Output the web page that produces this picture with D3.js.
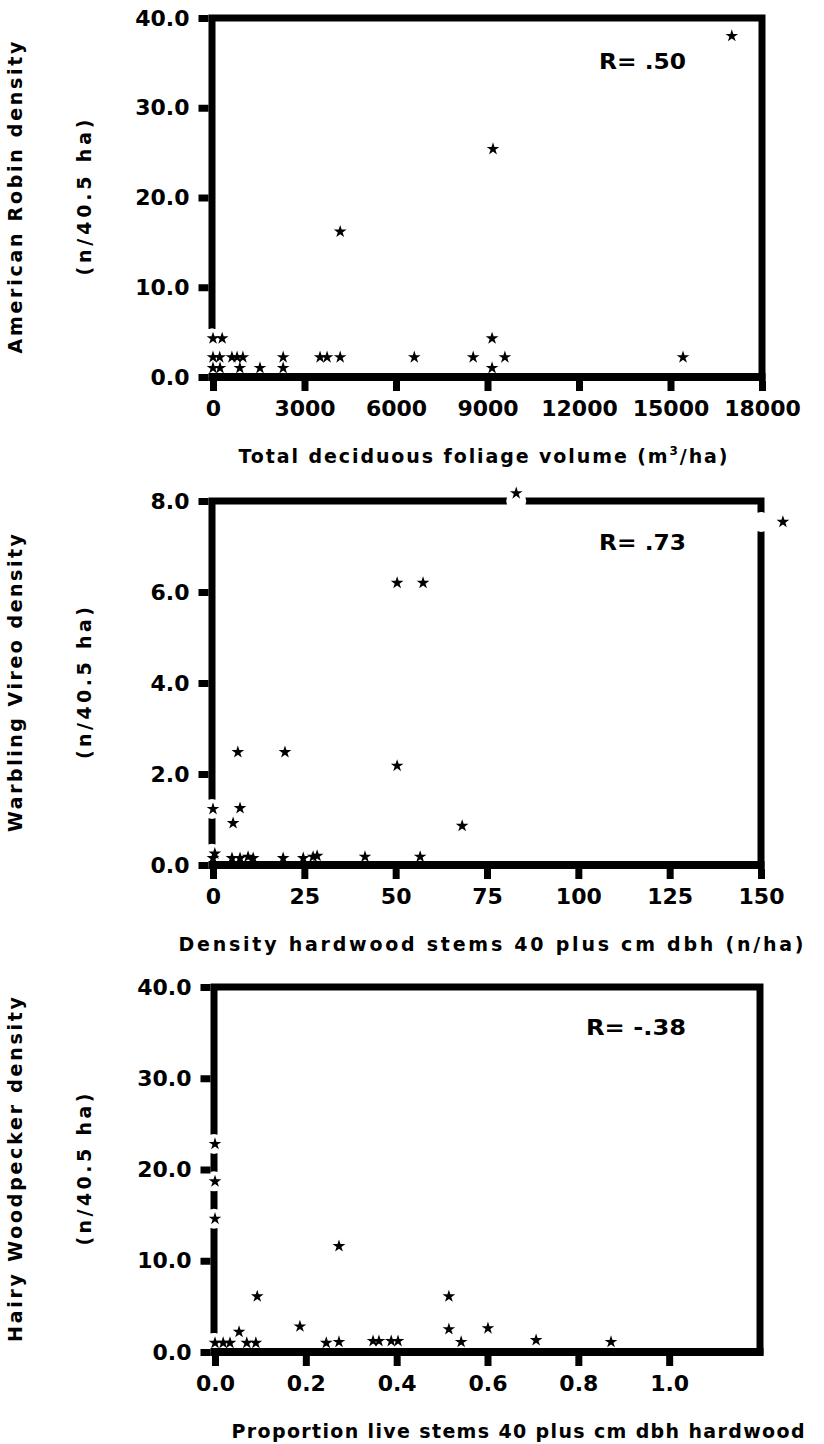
<!DOCTYPE html>
<html><head><meta charset="utf-8">
<script src="https://cdn.jsdelivr.net/npm/d3@7"></script>
<style>
html,body{margin:0;padding:0;background:#fff;}
svg{display:block;}
text{font-family:"DejaVu Sans","Liberation Sans",Arial,sans-serif;font-weight:bold;fill:#000;}
</style></head>
<body>
<script>
// ---------- DATA ----------
// Panel 1: American Robin vs total deciduous foliage volume
const robinX = [0, 300, 9150, 0, 220, 620, 790, 980, 2300, 3510, 3740, 4170, 6600, 8530, 9570, 15410, 0, 230, 880, 1540, 2300, 9150, 4170, 9180, 17010];
const robinY = [4.3, 4.3, 4.3, 2.2, 2.2, 2.2, 2.2, 2.2, 2.2, 2.2, 2.2, 2.2, 2.2, 2.2, 2.2, 2.2, 1.0, 1.0, 1.0, 1.0, 1.0, 1.0, 16.2, 25.4, 38.0];
const robinXTicks = [0, 3000, 6000, 9000, 12000, 15000, 18000];
const robinYTicks = [0, 10, 20, 30, 40];

// Panel 2: Warbling Vireo vs density hardwood stems 40+ cm dbh
const vireoX = [0, 0, 0.5, 5.2, 5.5, 7.4, 6.8, 7.4, 9.6, 11, 19.2, 19.7, 24.7, 27.4, 28.5, 41.6, 50.4, 50.4, 57.5, 56.7, 68.2, 83, 156];
const vireoY = [1.23, 0.15, 0.25, 0.15, 0.92, 1.25, 2.48, 0.15, 0.18, 0.15, 0.15, 2.48, 0.15, 0.18, 0.2, 0.18, 2.18, 6.2, 6.2, 0.18, 0.86, 8.17, 7.54];
const vireoXTicks = [0, 25, 50, 75, 100, 125, 150];
const vireoYTicks = [0, 2, 4, 6, 8];

// Panel 3: Hairy Woodpecker vs proportion live stems
const woodX = [0, 0, 0, 0.273, 0, 0.018, 0.033, 0.053, 0.07, 0.09, 0.093, 0.187, 0.245, 0.273, 0.348, 0.361, 0.388, 0.403, 0.515, 0.515, 0.542, 0.601, 0.707, 0.872];
const woodY = [22.8, 18.7, 14.6, 11.6, 1.0, 1.0, 1.0, 2.2, 1.0, 1.0, 6.1, 2.8, 1.0, 1.1, 1.2, 1.2, 1.2, 1.2, 6.1, 2.5, 1.1, 2.6, 1.3, 1.1];
const woodXTicks = [0, 0.2, 0.4, 0.6, 0.8, 1.0];
const woodYTicks = [0, 10, 20, 30, 40];

const rLabels = ["R= .50", "R= .73", "R= -.38"];

// ---------- LAYOUT ----------
const W = 824, H = 1444;
const svg = d3.select("body").append("svg").attr("width", W).attr("height", H);
svg.append("rect").attr("width", W).attr("height", H).attr("fill", "#fff");

const LW = 7; // frame line width
const FONT = '"DejaVu Sans","Liberation Sans",Arial,sans-serif';

const panels = [
  {
    xs: robinX, ys: robinY, xt: robinXTicks, yt: robinYTicks,
    xDom: [0, 18000], xRange: [213, 762], yDom: [0, 40], yRange: [377, 18],
    xFmt: d3.format("d"), yFmt: d3.format(".1f"),
    yTitle: "American Robin density", yTitleLen: 312, ySub: "(n/40.5 ha)", ySubLen: 156,
    xTitle: [{t: "Total deciduous foliage volume (m"}, {t: "3", sup: true}, {t: "/ha)"}], xTitleX: 483, xTitleY: 463, xTitleLen: 489,
    r: rLabels[0], rY: 62, rLen: 87
  },
  {
    xs: vireoX, ys: vireoY, xt: vireoXTicks, yt: vireoYTicks,
    xDom: [0, 150], xRange: [213, 761], yDom: [0, 8], yRange: [865, 501],
    xFmt: d3.format("d"), yFmt: d3.format(".1f"),
    yTitle: "Warbling Vireo density", yTitleLen: 298, ySub: "(n/40.5 ha)", ySubLen: 152,
    xTitle: [{t: "Density hardwood stems 40 plus cm dbh (n/ha)"}], xTitleX: 491, xTitleY: 951, xTitleLen: 625,
    r: rLabels[1], rY: 543, rLen: 87
  },
  {
    xs: woodX, ys: woodY, xt: woodXTicks, yt: woodYTicks,
    xDom: [0, 1.2], xRange: [215, 760], yDom: [0, 40], yRange: [1352, 987],
    xFmt: d3.format(".1f"), yFmt: d3.format(".1f"),
    yTitle: "Hairy Woodpecker density", yTitleLen: 345, ySub: "(n/40.5 ha)", ySubLen: 152,
    xTitle: [{t: "Proportion live stems 40 plus cm dbh hardwood"}], xTitleX: 518, xTitleY: 1438, xTitleLen: 573,
    r: rLabels[2], rY: 1028, rLen: 100
  }
];

const star = d3.symbol().type(d3.symbolStar).size(50);

function styleTickText(sel) {
  sel.style("font-size", "22px").style("font-family", FONT).style("font-weight", "bold");
}

panels.forEach(p => {
  const x = d3.scaleLinear().domain(p.xDom).range(p.xRange);
  const y = d3.scaleLinear().domain(p.yDom).range(p.yRange);
  const g = svg.append("g");
  const x1 = x(p.xDom[1]);
  const y0 = y(p.yDom[0]), y1 = y(p.yDom[1]);
  const fx0 = p.xRange[0] - 1; // frame left centre

  // frame: left, top, right
  g.append("path")
    .attr("d", `M${fx0},${y0} L${fx0},${y1} L${x1},${y1} L${x1},${y0}`)
    .attr("fill", "none").attr("stroke", "#000").attr("stroke-width", LW)
    .attr("stroke-linejoin", "miter").attr("stroke-linecap", "square");

  const pts = p.xs.map((v, i) => ({x: v, y: p.ys[i], px: x(v), py: y(p.ys[i])}));

  // white clearings where a symbol touches / crosses the frame
  const halos = [];
  pts.forEach(d => {
    if (Math.abs(d.px - fx0) <= 12) halos.push([fx0, d.py]);
    if (d.py - y1 <= 12) halos.push([d.px, y1]);
    if (d.px >= x1 - 12) halos.push([x1, d.py]);
  });
  g.append("g").selectAll("circle").data(halos).join("circle")
    .attr("cx", d => d[0]).attr("cy", d => d[1]).attr("r", 10).attr("fill", "#fff");

  // y axis ticks + labels
  const ya = d3.axisLeft(y).tickValues(p.yt).tickFormat(p.yFmt).tickSize(10).tickPadding(9);
  const yg = g.append("g").attr("transform", `translate(${fx0 - LW / 2},0)`).call(ya);
  yg.select(".domain").remove();
  yg.selectAll(".tick line").attr("stroke", "#000").attr("stroke-width", 7);
  yg.selectAll(".tick text").call(styleTickText);

  // bottom axis line (drawn over clearings)
  g.append("line").attr("x1", fx0 - LW / 2).attr("x2", x1 + LW / 2)
    .attr("y1", y0).attr("y2", y0).attr("stroke", "#000").attr("stroke-width", LW + 1);

  // x ticks + labels
  const xa = d3.axisBottom(x).tickValues(p.xt).tickFormat(p.xFmt).tickSize(10).tickPadding(9);
  const xg = g.append("g").attr("transform", `translate(0,${y0 + (LW + 1) / 2})`).call(xa);
  xg.select(".domain").remove();
  xg.selectAll(".tick line").attr("stroke", "#000").attr("stroke-width", 7);
  xg.selectAll(".tick text").call(styleTickText);

  // stars
  g.append("g").selectAll("path").data(pts).join("path")
    .attr("d", star)
    .attr("transform", d => `translate(${d.px},${d.py})`)
    .attr("fill", "#000");

  // R label
  g.append("text").attr("x", 686).attr("y", p.rY).attr("text-anchor", "end")
    .attr("dominant-baseline", "central").style("font-size", "21px")
    .attr("textLength", p.rLen).attr("lengthAdjust", "spacingAndGlyphs").text(p.r);

  // y titles
  const yc = (y0 + y1) / 2;
  g.append("text").attr("transform", `translate(15,${yc}) rotate(-90)`)
    .attr("text-anchor", "middle").attr("dominant-baseline", "central")
    .style("font-size", "19px").attr("textLength", p.yTitleLen).attr("lengthAdjust", "spacing")
    .text(p.yTitle);
  g.append("text").attr("transform", `translate(84,${yc}) rotate(-90)`)
    .attr("text-anchor", "middle").attr("dominant-baseline", "central")
    .style("font-size", "19px").attr("textLength", p.ySubLen).attr("lengthAdjust", "spacing")
    .text(p.ySub);

  // x title
  const xt = g.append("text").attr("x", p.xTitleX - p.xTitleLen / 2).attr("y", p.xTitleY)
    .style("font-size", "19px").attr("textLength", p.xTitleLen).attr("lengthAdjust", "spacing");
  p.xTitle.forEach(s => {
    const ts = xt.append("tspan").text(s.t);
    if (s.sup) ts.attr("dy", -8).style("font-size", "12px");
    else if (ts.node().previousSibling) ts.attr("dy", 8);
  });
});
</script>
</body></html>
